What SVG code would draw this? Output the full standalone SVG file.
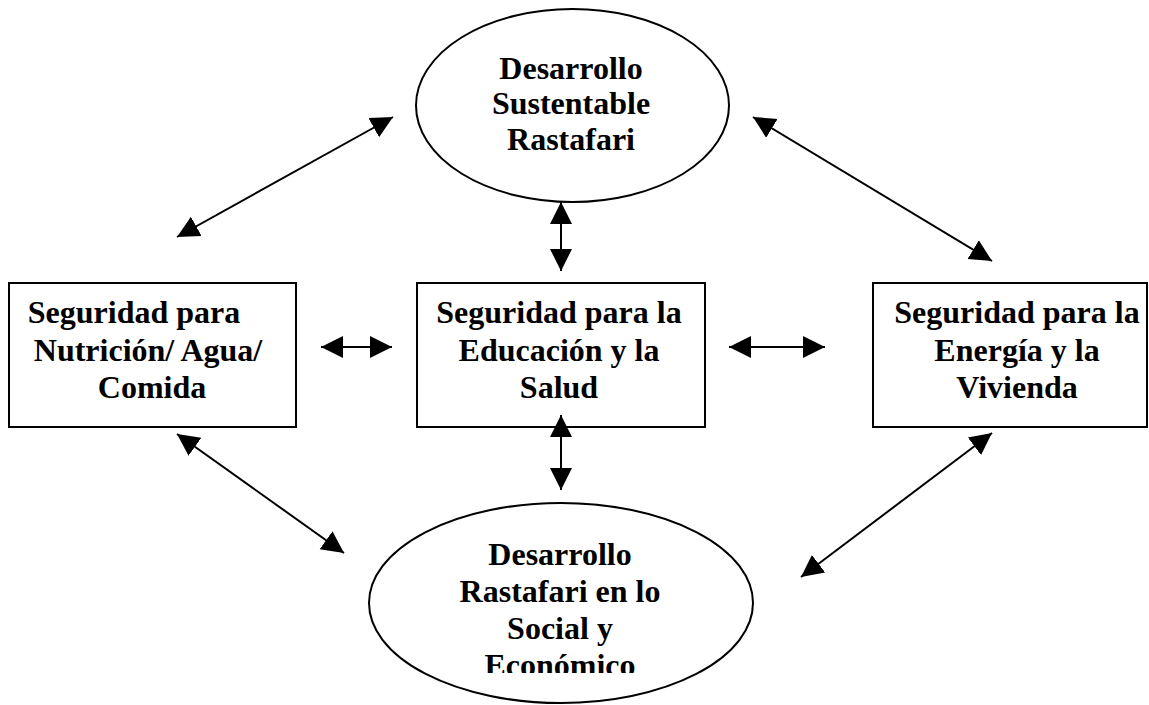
<svg xmlns="http://www.w3.org/2000/svg" width="1149" height="705" viewBox="0 0 1149 705">
<style>
  .shape { fill: #fff; stroke: #000; stroke-width: 2; }
  .lbl { font-family: "Liberation Serif", "Times New Roman", serif; font-weight: bold; font-size: 32px; fill: #000; text-anchor: middle; }
  .conn { stroke: #000; stroke-width: 2; fill: none; marker-start: url(#ah); marker-end: url(#ah); }
</style>
<defs>
  <marker id="ah" markerUnits="userSpaceOnUse" viewBox="0 0 24 24" markerWidth="24" markerHeight="24" refX="22" refY="12" orient="auto-start-reverse">
    <path d="M0,1 L22,12 L0,23 Z" fill="#000"/>
  </marker>
  <clipPath id="clipBottom">
    <rect x="0" y="0" width="1149" height="673"/>
  </clipPath>
</defs>
<rect width="1149" height="705" fill="#fff"/>

<g id="node-desarrollo-sustentable">
  <ellipse class="shape" cx="572.5" cy="105.5" rx="156.5" ry="96.5"/>
  <text class="lbl" x="571" y="79">Desarrollo</text>
  <text class="lbl" x="571" y="114">Sustentable</text>
  <text class="lbl" x="571" y="150">Rastafari</text>
</g>

<g id="node-nutricion">
  <rect class="shape" x="9" y="283" width="287" height="144"/>
  <text class="lbl" x="134" y="323">Seguridad para</text>
  <text class="lbl" x="148" y="360.5">Nutrición/ Agua/</text>
  <text class="lbl" x="152" y="398">Comida</text>
</g>

<g id="node-educacion">
  <rect class="shape" x="417" y="283" width="288" height="144"/>
  <text class="lbl" x="559" y="323">Seguridad para la</text>
  <text class="lbl" x="559" y="360.5">Educación y la</text>
  <text class="lbl" x="559" y="398">Salud</text>
</g>

<g id="node-energia">
  <rect class="shape" x="873" y="283" width="274" height="144"/>
  <text class="lbl" x="1017" y="323">Seguridad para la</text>
  <text class="lbl" x="1017" y="360.5">Energía y la</text>
  <text class="lbl" x="1017" y="398">Vivienda</text>
</g>

<g id="node-desarrollo-social">
  <ellipse class="shape" cx="561" cy="603" rx="192" ry="100"/>
  <g clip-path="url(#clipBottom)">
    <text class="lbl" x="560" y="565">Desarrollo</text>
    <text class="lbl" x="560" y="602">Rastafari en lo</text>
    <text class="lbl" x="560" y="639">Social y</text>
    <text class="lbl" x="560" y="676">Económico</text>
  </g>
</g>

<g id="connectors">
  <line class="conn" x1="177" y1="237" x2="393" y2="117"/>
  <line class="conn" x1="753" y1="117" x2="992" y2="261"/>
  <line class="conn" x1="561" y1="202" x2="561" y2="271"/>
  <line class="conn" x1="321" y1="347" x2="392" y2="347"/>
  <line class="conn" x1="729" y1="347" x2="825" y2="347"/>
  <line class="conn" x1="561" y1="415" x2="561" y2="490"/>
  <line class="conn" x1="177" y1="434" x2="344" y2="553"/>
  <line class="conn" x1="992" y1="433" x2="801" y2="577"/>
</g>
</svg>
